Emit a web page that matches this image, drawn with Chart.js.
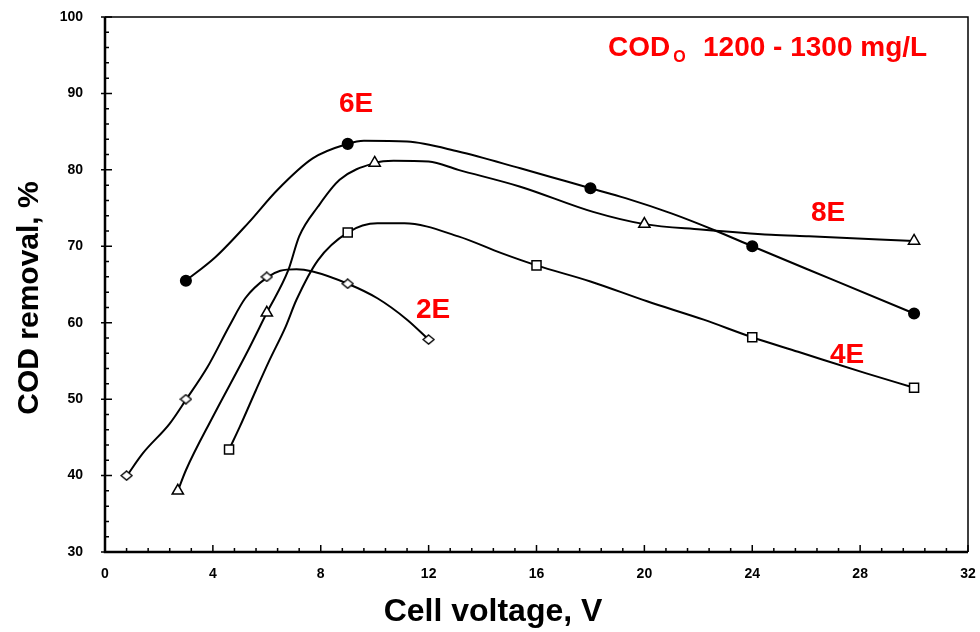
<!DOCTYPE html>
<html>
<head>
<meta charset="utf-8">
<script src="https://cdn.jsdelivr.net/npm/chart.js@4.4.1/dist/chart.umd.min.js"></script>
<style>
  html, body { margin: 0; padding: 0; background: #fff; }
  #wrap { width: 980px; height: 632px; }
</style>
</head>
<body>
<div id="wrap"><canvas id="codChart" width="980" height="632"></canvas></div>
<script>
// measured points (markers)
const volt2E = [0.8, 3, 6, 9, 12];
const rem2E = [40, 50, 66, 65.1, 57.8];
const volt4E = [4.6, 9, 16, 24, 30];
const rem4E = [43.4, 71.8, 67.5, 58.1, 51.5];
const volt6E = [3, 9, 18, 24, 30];
const rem6E = [65.5, 83.4, 77.6, 70, 61.2];
const volt8E = [2.7, 6, 10, 20, 30];
const rem8E = [38, 61.3, 80.9, 72.9, 70.7];

// fitted curves
const fitV2E = [0.8, 1.4, 2.4, 3.0, 3.8, 4.6, 5.2, 6.0, 6.5, 7.1, 7.7, 9.0, 10.1, 11.2, 12.0];
const fitR2E = [39.9, 42.9, 46.8, 49.9, 54.2, 59.5, 63.2, 65.9, 66.8, 67.0, 66.7, 65.1, 63.2, 60.4, 57.8];
const fitV4E = [4.6, 5.0, 5.6, 6.1, 6.7, 7.1, 7.9, 9.0, 10.1, 11.1, 13.1, 14.7, 16.0, 18.0, 20.1, 22.2, 24.0, 25.7, 28.2, 30.0];
const fitR4E = [43.4, 46.4, 51.2, 55.1, 59.5, 63.0, 68.2, 71.8, 73.0, 73.0, 71.3, 69.1, 67.5, 65.4, 62.8, 60.4, 58.1, 56.2, 53.4, 51.5];
const fitV6E = [3.0, 4.1, 5.3, 6.4, 7.7, 9.0, 9.6, 11.2, 13.1, 15.4, 17.1, 18.0, 19.3, 21.0, 22.6, 24.0, 27.0, 30.0];
const fitR6E = [65.5, 68.6, 73.0, 77.4, 81.5, 83.4, 83.8, 83.7, 82.4, 80.2, 78.5, 77.6, 76.3, 74.3, 72.1, 70.0, 65.6, 61.2];
const fitV8E = [2.7, 3.0, 4.0, 5.25, 6.0, 6.8, 7.2, 7.9, 8.7, 10.0, 10.7, 12.0, 13.1, 15.4, 18.1, 20.0, 22.1, 24.7, 26.1, 30.0];
const fitR8E = [38.0, 40.7, 47.7, 56.0, 61.3, 66.9, 71.3, 75.2, 78.7, 80.9, 81.2, 81.1, 80.0, 77.8, 74.5, 72.9, 72.2, 71.5, 71.3, 70.7];

const xTicks = [0, 4, 8, 12, 16, 20, 24, 28, 32];
const yTicks = [30, 40, 50, 60, 70, 80, 90, 100];

const xTitle = 'Cell voltage, V';
const yTitle = 'COD removal, %';
const seriesNames = ['2E', '4E', '6E', '8E'];
const noteMain = 'COD';
const noteSub = 'O';
const noteRest = '1200 - 1300 mg/L';

const FONT = 'Arial, "Liberation Sans", Helvetica, sans-serif';

function toXY(xs, ys) {
  return xs.map((x, i) => ({ x: x, y: ys[i] }));
}

// flattened open diamond like in the original
const diamond = document.createElement('canvas');
diamond.width = 13;
diamond.height = 11;
(function () {
  const c = diamond.getContext('2d');
  c.fillStyle = '#fff';
  c.strokeStyle = '#000';
  c.lineWidth = 1.4;
  c.beginPath();
  c.moveTo(6.5, 1);
  c.lineTo(12, 5.5);
  c.lineTo(6.5, 10);
  c.lineTo(1, 5.5);
  c.closePath();
  c.fill();
  c.stroke();
})();

function curve(xs, ys) {
  return {
    data: toXY(xs, ys),
    showLine: true,
    borderColor: '#000',
    borderWidth: 2,
    pointRadius: 0,
    cubicInterpolationMode: 'monotone',
    fill: false,
    order: 2
  };
}

function markers(xs, ys, style, radius, bg) {
  return {
    data: toXY(xs, ys),
    showLine: false,
    pointStyle: style,
    pointRadius: radius,
    pointBackgroundColor: bg,
    pointBorderColor: '#000',
    pointBorderWidth: 1.5,
    order: 1
  };
}

function noPad(scale) {
  scale.paddingTop = 0;
  scale.paddingBottom = 0;
  scale.paddingLeft = 0;
  scale.paddingRight = 0;
}

const framePlugin = {
  id: 'frame',
  afterDraw(chart) {
    const ctx = chart.ctx;
    const a = chart.chartArea;
    const xs = chart.scales.x;
    const ys = chart.scales.y;
    ctx.save();
    ctx.strokeStyle = '#000';

    // top + right border
    ctx.lineWidth = 1.5;
    ctx.beginPath();
    ctx.moveTo(a.left, a.top);
    ctx.lineTo(a.right, a.top);
    ctx.lineTo(a.right, a.bottom);
    ctx.stroke();

    // axes
    ctx.lineWidth = 2.5;
    ctx.beginPath();
    ctx.moveTo(a.left, a.top);
    ctx.lineTo(a.left, a.bottom);
    ctx.lineTo(a.right, a.bottom);
    ctx.stroke();

    // inward ticks
    ctx.lineWidth = 1.5;
    ctx.beginPath();
    for (let i = 0; i <= 40; i++) {
      const px = xs.getPixelForValue(i * 0.8);
      const major = i % 5 === 0;
      ctx.moveTo(px, a.bottom);
      ctx.lineTo(px, a.bottom - (major ? 7 : 4));
    }
    for (let v = 30; v <= 100; v += 2) {
      const py = ys.getPixelForValue(v);
      const major = v % 10 === 0;
      ctx.moveTo(a.left - (major ? 4 : 0), py);
      ctx.lineTo(a.left + (major ? 7 : 4), py);
    }
    ctx.stroke();

    // axis titles
    ctx.fillStyle = '#000';
    ctx.font = 'bold 32px ' + FONT;
    ctx.textAlign = 'center';
    ctx.textBaseline = 'alphabetic';
    ctx.fillText(xTitle, 493, 621);

    ctx.save();
    ctx.translate(38, 298);
    ctx.rotate(-Math.PI / 2);
    ctx.font = 'bold 30px ' + FONT;
    ctx.fillText(yTitle, 0, 0);
    ctx.restore();

    // red annotations
    ctx.fillStyle = '#ff0000';
    ctx.font = 'bold 28px ' + FONT;
    ctx.textAlign = 'center';
    ctx.fillText(seriesNames[0], 433, 318);
    ctx.fillText(seriesNames[1], 847, 363);
    ctx.fillText(seriesNames[2], 356, 112);
    ctx.fillText(seriesNames[3], 828, 221);

    ctx.textAlign = 'left';
    ctx.fillText(noteMain, 608, 56);
    const w = ctx.measureText(noteMain).width;
    ctx.font = 'bold 16px ' + FONT;
    ctx.fillText(noteSub, 608 + w + 3, 62);
    ctx.font = 'bold 28px ' + FONT;
    ctx.fillText(noteRest, 703, 56);
    ctx.restore();
  }
};

const ctx = document.getElementById('codChart').getContext('2d');
const codChart = new Chart(ctx, {
  type: 'scatter',
  data: {
    datasets: [
      markers(volt2E, rem2E, diamond, 5.5, '#fff'),
      markers(volt4E, rem4E, 'rect', 6.4, '#fff'),
      markers(volt6E, rem6E, 'circle', 5.3, '#000'),
      markers(volt8E, rem8E, 'triangle', 6.5, '#fff'),
      curve(fitV2E, fitR2E),
      curve(fitV4E, fitR4E),
      curve(fitV6E, fitR6E),
      curve(fitV8E, fitR8E)
    ]
  },
  options: {
    responsive: false,
    animation: false,
    layout: { padding: { top: 17, right: 12, left: 0, bottom: 0 } },
    plugins: {
      legend: { display: false },
      tooltip: { enabled: false }
    },
    scales: {
      x: {
        type: 'linear',
        min: 0,
        max: 32,
        afterFit(scale) { scale.height = 80; noPad(scale); },
        afterBuildTicks(scale) { scale.ticks = xTicks.map(v => ({ value: v })); },
        grid: { display: false, drawTicks: false },
        border: { display: false },
        ticks: {
          padding: 14,
          color: '#000',
          font: { family: FONT, size: 14, weight: 'bold' },
          maxRotation: 0
        }
      },
      y: {
        type: 'linear',
        min: 30,
        max: 100,
        afterFit(scale) { scale.width = 105; noPad(scale); },
        afterBuildTicks(scale) { scale.ticks = yTicks.map(v => ({ value: v })); },
        grid: { display: false, drawTicks: false },
        border: { display: false },
        ticks: {
          padding: 22,
          color: '#000',
          font: { family: FONT, size: 14, weight: 'bold' }
        }
      }
    }
  },
  plugins: [framePlugin]
});
</script>
</body>
</html>
